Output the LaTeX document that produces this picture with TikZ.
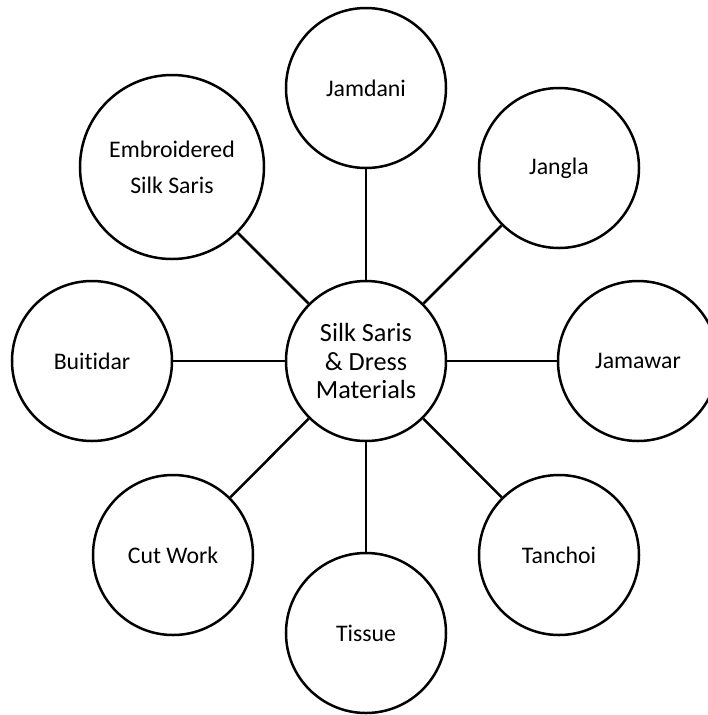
\documentclass[tikz,border=0pt]{standalone}
\usepackage{fontspec}
\setmainfont{Carlito}[Ligatures=NoCommon]
\usetikzlibrary{positioning}

\tikzset{
  bubble/.style={circle, draw=black, line width=0.075cm, minimum size=4.8cm,
    inner sep=0pt, align=center, font=\fontsize{20.3pt}{31pt}\selectfont},
  hubble/.style={bubble, font=\fontsize{22.4pt}{24.7pt}\selectfont},
  link/.style={draw=black, line width=0.075cm}
}

\begin{document}
\begin{tikzpicture}[x=0.03cm, y=-0.03cm]

% Canvas
\useasboundingbox (0,0) rectangle (708,715);

% Hub
\node[hubble] (hub) at (366,361) {Silk Saris\\\& Dress\\Materials};

% Outer ring
\node[bubble] (jamdani) at (366,88) {Jamdani};
\node[bubble] (jangla) at (559,168) {Jangla};
\node[bubble] (jamawar) at (638,361) {Jamawar};
\node[bubble] (tanchoi) at (559,555) {Tanchoi};
\node[bubble] (tissue) at (366,633) {Tissue};
\node[bubble] (cutwork) at (173,555) {Cut Work};
\node[bubble] (buitidar) at (92,361) {Buitidar};
\node[bubble, minimum size=5.52cm] (embroidered) at (172,167) {Embroidered\\Silk Saris};

% Spokes
\foreach \n in {jamdani,jangla,jamawar,tanchoi,tissue,cutwork,buitidar,embroidered}
  \draw[link] (hub) -- (\n);

\end{tikzpicture}
\end{document}
